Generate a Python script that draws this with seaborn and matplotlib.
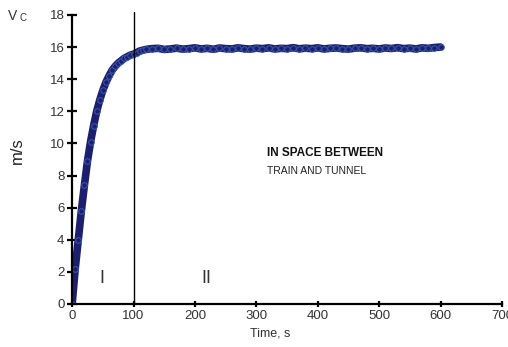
import numpy as np
import pandas as pd
import matplotlib
matplotlib.use("Agg")
import matplotlib.pyplot as plt
import seaborn as sns

# ── data ──────────────────────────────────────────────────────────────────────
time_s = [0, 5, 10, 15, 20, 25, 30, 35, 40, 45, 50, 55, 60, 65, 70, 75, 80,
          85, 90, 95, 100, 105, 110, 115, 120,
          130, 140, 150, 160, 170, 180, 190, 200, 210, 220, 230, 240, 250,
          260, 270, 280, 290, 300, 310, 320, 330, 340, 350, 360, 370, 380,
          390, 400, 410, 420, 430, 440, 450, 460, 470, 480, 490, 500, 510,
          520, 530, 540, 550, 560, 570, 580, 590, 600]
speed_ms = [0.0, 2.2, 4.0, 5.8, 7.4, 8.9, 10.1, 11.1, 12.0, 12.7, 13.3, 13.8,
            14.2, 14.55, 14.8, 15.0, 15.15, 15.3, 15.4, 15.5, 15.55, 15.65,
            15.75, 15.8, 15.85,
            15.9, 15.92, 15.85, 15.88, 15.93, 15.87, 15.9, 15.95, 15.88,
            15.92, 15.86, 15.94, 15.9, 15.88, 15.95, 15.9, 15.87, 15.93,
            15.9, 15.95, 15.88, 15.92, 15.9, 15.96, 15.89, 15.93, 15.9,
            15.95, 15.88, 15.92, 15.94, 15.9, 15.87, 15.93, 15.95, 15.9,
            15.92, 15.88, 15.94, 15.91, 15.96, 15.9, 15.93, 15.88, 15.95,
            15.92, 15.97, 16.0]

df = pd.DataFrame({"time": time_s, "speed": speed_ms})

x_ticks = [0, 100, 200, 300, 400, 500, 600, 700]
y_ticks = [0, 2, 4, 6, 8, 10, 12, 14, 16, 18]
boundary_t = 100

# ── plot ──────────────────────────────────────────────────────────────────────
sns.set_theme(style="white")
plt.rcParams["font.family"] = ["Liberation Sans", "DejaVu Sans"]

fig = plt.figure(figsize=(5.08, 3.47), dpi=100)
ax = fig.add_axes([0.142, 0.124, 0.846, 0.833])

sns.lineplot(data=df, x="time", y="speed", ax=ax, color="#1c1f6e",
             linewidth=5.5, marker="o", markersize=4,
             markerfacecolor="#1c1f6e", markeredgecolor="#3b5cb0",
             markeredgewidth=0.7)

ax.axvline(boundary_t, ymin=0, ymax=1.01, color="black", linewidth=1.0,
           clip_on=False)

ax.set_xlim(0, 700)
ax.set_ylim(0, 18)
ax.set_xticks(x_ticks)
ax.set_yticks(y_ticks)
ax.tick_params(axis="both", direction="inout", length=7, width=1.6,
               labelsize=9.5, colors="black", labelcolor="#333333", pad=2,
               bottom=True, left=True)
ax.tick_params(axis="x", length=5)

for side in ["top", "right"]:
    ax.spines[side].set_visible(False)
for side in ["left", "bottom"]:
    ax.spines[side].set_color("black")
    ax.spines[side].set_linewidth(1.6)

ax.set_xlabel("")
ax.set_ylabel("")

fig.text(0.531, 0.04, "Time, s", ha="center", va="center", fontsize=9,
         color="#333333")
fig.text(0.035, 0.565, "m/s", rotation=90, ha="center", va="center",
         fontsize=12, color="#222222")
fig.text(0.015, 0.955, "V", ha="left", va="center", fontsize=10,
         color="#333333")
fig.text(0.038, 0.948, "C", ha="left", va="center", fontsize=7,
         color="#333333")

ax.text(48, 1.6, "I", ha="center", va="center", fontsize=13, color="#333333")
ax.text(218, 1.6, "II", ha="center", va="center", fontsize=13,
        color="#333333")
ax.text(318, 9.4, "IN SPACE BETWEEN", ha="left", va="center", fontsize=8.5,
        fontweight="bold", color="#111111")
ax.text(318, 8.3, "TRAIN AND TUNNEL", ha="left", va="center", fontsize=7.5,
        color="#222222")

fig.savefig("out.png", dpi=100)
